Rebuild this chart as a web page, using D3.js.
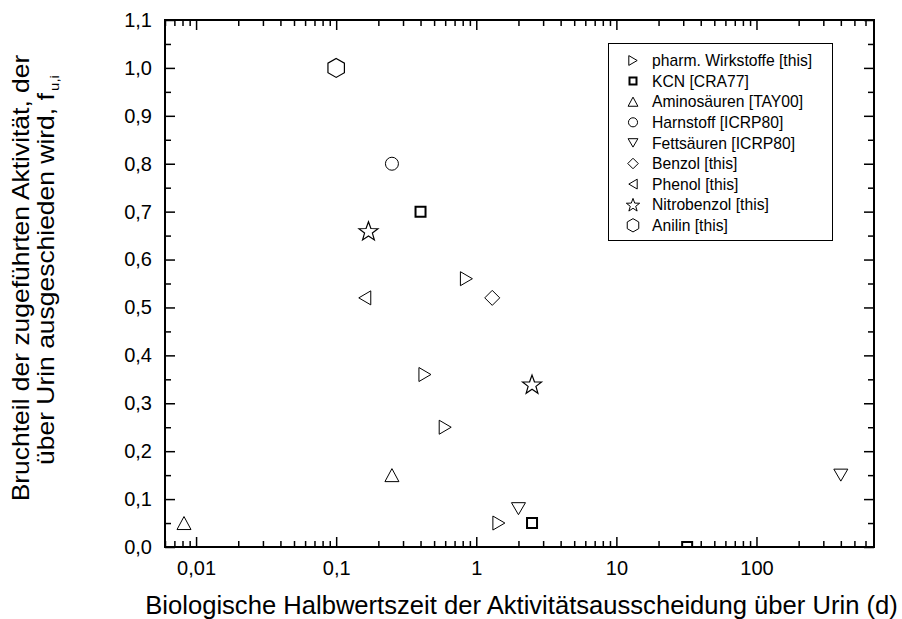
<!DOCTYPE html>
<html><head><meta charset="utf-8">
<script src="https://cdn.jsdelivr.net/npm/d3@7/dist/d3.min.js"></script>
<style>
body{margin:0;background:#fff;}
svg text{font-family:"Liberation Sans",Arial,sans-serif;fill:#000;}
</style></head>
<body><svg id="c" width="902" height="619"></svg>
<script>
// ---- data ----
const seriesNames = ["pharm. Wirkstoffe [this]","KCN [CRA77]","Aminosäuren [TAY00]","Harnstoff [ICRP80]","Fettsäuren [ICRP80]","Benzol [this]","Phenol [this]","Nitrobenzol [this]","Anilin [this]"];
const pharmX = [0.85, 0.43, 0.6, 1.45];
const pharmY = [0.56, 0.36, 0.25, 0.05];
const kcnX = [0.4, 2.5, 32];
const kcnY = [0.70, 0.05, 0.0];
const aminoX = [0.0082, 0.25];
const aminoY = [0.05, 0.15];
const harnX = [0.25];
const harnY = [0.80];
const fettX = [2.0, 400];
const fettY = [0.08, 0.15];
const benzolX = [1.3];
const benzolY = [0.52];
const phenolX = [0.16];
const phenolY = [0.52];
const nitroX = [0.17, 2.5];
const nitroY = [0.66, 0.34];
const anilinX = [0.1];
const anilinY = [1.0];
const xTickValues = [0.01, 0.1, 1, 10, 100];
const xTickLabels = ["0,01", "0,1", "1", "10", "100"];
const yTickValues = [0,0.1,0.2,0.3,0.4,0.5,0.6,0.7,0.8,0.9,1.0,1.1];
const yTickLabels = ["0,0","0,1","0,2","0,3","0,4","0,5","0,6","0,7","0,8","0,9","1,0","1,1"];
const yMinorValues = [0.05,0.15,0.25,0.35,0.45,0.55,0.65,0.75,0.85,0.95,1.05];
const xTitle = "Biologische Halbwertszeit der Aktivitätsausscheidung über Urin (d)";
const yTitle1 = "Bruchteil der zugeführten Aktivität, der";
const yTitle2 = "über Urin ausgeschieden wird, f";
const yTitleSub = "u,i";

// ---- layout ----
const L = 165, R = 874, T = 20, B = 547;
const svg = d3.select("#c");
const x = d3.scaleLog().domain([0.006, 690]).range([L, R]);
const y = d3.scaleLinear().domain([0, 1.1]).range([B, T]);

function shapePath(type, s) {
  const p = (pts) => "M" + pts.map(q => (q[0]*s).toFixed(2) + "," + (q[1]*s).toFixed(2)).join("L") + "Z";
  switch (type) {
    case "right": return p([[-6,-7],[6,0],[-6,7]]);
    case "left": return p([[6,-7],[-6,0],[6,7]]);
    case "up": return p([[0,-6.5],[7,6.5],[-7,6.5]]);
    case "down": return p([[-7,-6],[7,-6],[0,6]]);
    case "square": return p([[-5,-5],[5,-5],[5,5],[-5,5]]);
    case "diamond": return p([[0,-7.5],[7.5,0],[0,7.5],[-7.5,0]]);
    case "circle": { const r = 6.5*s; return `M${r},0A${r},${r} 0 1,1 ${-r},0A${r},${r} 0 1,1 ${r},0Z`; }
    case "star": {
      const pts = [];
      for (let i = 0; i < 10; i++) {
        const a = -Math.PI/2 + i*Math.PI/5;
        const r = i % 2 === 0 ? 10 : 4.1;
        pts.push([r*Math.cos(a), r*Math.sin(a) + 1]);
      }
      return p(pts);
    }
    case "hexagon": {
      const pts = [];
      for (let i = 0; i < 6; i++) {
        const a = -Math.PI/2 + i*Math.PI/3;
        pts.push([9.5*Math.cos(a), 9.5*Math.sin(a)]);
      }
      return p(pts);
    }
  }
}

const series = [
  {name: seriesNames[0], xs: pharmX, ys: pharmY, shape: "right", sw: 1},
  {name: seriesNames[1], xs: kcnX, ys: kcnY, shape: "square", sw: 2},
  {name: seriesNames[2], xs: aminoX, ys: aminoY, shape: "up", sw: 1},
  {name: seriesNames[3], xs: harnX, ys: harnY, shape: "circle", sw: 1},
  {name: seriesNames[4], xs: fettX, ys: fettY, shape: "down", sw: 1},
  {name: seriesNames[5], xs: benzolX, ys: benzolY, shape: "diamond", sw: 1},
  {name: seriesNames[6], xs: phenolX, ys: phenolY, shape: "left", sw: 1},
  {name: seriesNames[7], xs: nitroX, ys: nitroY, shape: "star", sw: 1.2},
  {name: seriesNames[8], xs: anilinX, ys: anilinY, shape: "hexagon", sw: 1.2}
];

svg.append("defs").append("clipPath").attr("id","clip")
  .append("rect").attr("x", L).attr("y", T).attr("width", R-L).attr("height", B-T);

const allXTicks = x.ticks().filter(v => v >= 0.006 && v <= 690);
const isMajor = v => xTickValues.some(m => Math.abs(v/m - 1) < 1e-6);
const minorX = allXTicks.filter(v => !isMajor(v));

function axisStyle(g) {
  g.select(".domain").remove();
  g.selectAll(".tick line").attr("stroke","#000").attr("stroke-width",1.5);
}
const fmtX = v => xTickLabels[xTickValues.findIndex(m => Math.abs(v/m-1) < 1e-6)];
const fmtY = v => yTickLabels[yTickValues.findIndex(m => Math.abs(v-m) < 1e-6)];
const FF = "Liberation Sans, Arial, sans-serif";

svg.append("g").attr("transform",`translate(0,${B})`)
  .call(d3.axisBottom(x).tickValues(xTickValues).tickFormat(fmtX).tickSizeInner(-10).tickSizeOuter(0).tickPadding(28))
  .call(axisStyle).call(g => g.selectAll("text").attr("font-size",20).attr("font-family",FF).attr("dy","0"));
svg.append("g").attr("transform",`translate(0,${B})`)
  .call(d3.axisBottom(x).tickValues(minorX).tickFormat("").tickSizeInner(-6).tickSizeOuter(0))
  .call(axisStyle);
svg.append("g").attr("transform",`translate(0,${T})`)
  .call(d3.axisTop(x).tickValues(xTickValues).tickFormat("").tickSizeInner(-10).tickSizeOuter(0))
  .call(axisStyle);
svg.append("g").attr("transform",`translate(0,${T})`)
  .call(d3.axisTop(x).tickValues(minorX).tickFormat("").tickSizeInner(-6).tickSizeOuter(0))
  .call(axisStyle);
svg.append("g").attr("transform",`translate(${L},0)`)
  .call(d3.axisLeft(y).tickValues(yTickValues).tickFormat(fmtY).tickSizeInner(-10).tickSizeOuter(0).tickPadding(13))
  .call(axisStyle).call(g => g.selectAll("text").attr("font-size",20).attr("font-family",FF));
svg.append("g").attr("transform",`translate(${L},0)`)
  .call(d3.axisLeft(y).tickValues(yMinorValues).tickFormat("").tickSizeInner(-6).tickSizeOuter(0))
  .call(axisStyle);
svg.append("g").attr("transform",`translate(${R},0)`)
  .call(d3.axisRight(y).tickValues(yTickValues).tickFormat("").tickSizeInner(-10).tickSizeOuter(0))
  .call(axisStyle);
svg.append("g").attr("transform",`translate(${R},0)`)
  .call(d3.axisRight(y).tickValues(yMinorValues).tickFormat("").tickSizeInner(-6).tickSizeOuter(0))
  .call(axisStyle);

const pts = svg.append("g").attr("clip-path","url(#clip)");
series.forEach(s => {
  pts.selectAll(null).data(s.xs.map((v,i) => [v, s.ys[i]])).enter().append("path")
    .attr("d", shapePath(s.shape, 1))
    .attr("transform", d => `translate(${x(d[0])},${y(d[1])})`)
    .attr("fill","#fff").attr("stroke","#000").attr("stroke-width", s.sw);
});

svg.append("rect").attr("x",L).attr("y",T).attr("width",R-L).attr("height",B-T)
  .attr("fill","none").attr("stroke","#000").attr("stroke-width",2);

const lg = svg.append("g");
lg.append("rect").attr("x",608.5).attr("y",43.5).attr("width",224).attr("height",197)
  .attr("fill","#fff").attr("stroke","#000").attr("stroke-width",1);
series.forEach((s,i) => {
  const cy = 60.5 + i*20.6;
  lg.append("path").attr("d", shapePath(s.shape, 0.7))
    .attr("transform",`translate(633,${cy})`)
    .attr("fill","#fff").attr("stroke","#000").attr("stroke-width", s.shape==="square"?2:1);
  lg.append("text").attr("x",652).attr("y",cy+5.6).attr("font-size",15.7).text(s.name);
});

svg.append("text").attr("x",521.5).attr("y",614).attr("text-anchor","middle")
  .attr("font-size",25.6).text(xTitle);
svg.append("text").attr("transform","translate(29,278) rotate(-90) scale(1.15,1)").attr("text-anchor","middle")
  .attr("font-size",23).text(yTitle1);
const t2 = svg.append("text").attr("transform","translate(54,270) rotate(-90) scale(1.15,1)").attr("text-anchor","middle")
  .attr("font-size",23);
t2.append("tspan").text(yTitle2);
t2.append("tspan").attr("font-size",13).attr("dy",5).attr("dx",2).text(yTitleSub);
</script></body></html>
